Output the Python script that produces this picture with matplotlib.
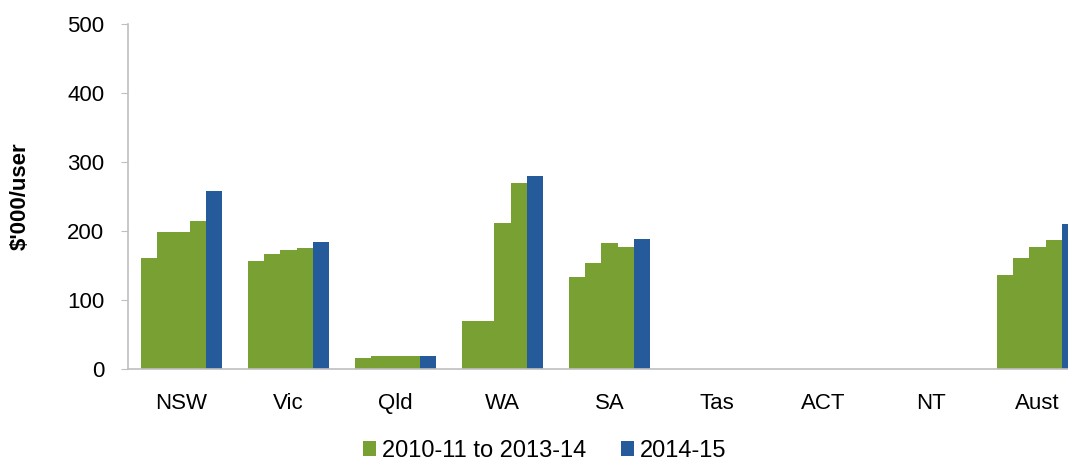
import numpy as np
import matplotlib.pyplot as plt

plt.rcParams['font.family'] = ['Liberation Sans', 'DejaVu Sans']

states = ['NSW', 'Vic', 'Qld', 'WA', 'SA', 'Tas', 'ACT', 'NT', 'Aust']
nan = np.nan
# four earlier years (2010-11 .. 2013-14), one list per year
y2010_11 = [161, 156, 16, 69, 134, nan, nan, nan, 136]
y2011_12 = [198, 166, 19, 69, 154, nan, nan, nan, 161]
y2012_13 = [198, 173, 19, 212, 182, nan, nan, nan, 177]
y2013_14 = [214, 175, 19, 270, 177, nan, nan, nan, 187]
y2014_15 = [258, 184, 19, 279, 189, nan, nan, nan, 210]

green = '#78A033'
blue = '#265B9B'

fig = plt.figure(figsize=(10.68, 4.61), dpi=100)
ax = fig.add_axes([0.1199, 0.1996, 0.8801, 0.7484])

x = np.arange(len(states))
w = 0.153
series = [y2010_11, y2011_12, y2012_13, y2013_14, y2014_15]
for i, vals in enumerate(series):
    col = blue if i == 4 else green
    lab = None
    if i == 0:
        lab = '2010-11 to 2013-14'
    elif i == 4:
        lab = '2014-15'
    ax.bar(x + (i - 2) * w, vals, width=w, color=col, label=lab, linewidth=0)

ax.set_xlim(-0.5, 8.285)
ax.set_ylim(0, 500)
ax.set_yticks(range(0, 501, 100))
ax.set_xticks(x)
ax.set_xticklabels(states, fontsize=16)
ax.tick_params(axis='y', labelsize=16, length=5, color='#BFBFBF', pad=12)
ax.tick_params(axis='x', length=0, pad=17)
ax.set_ylabel("\\$'000/user", fontsize=16, fontweight='bold', labelpad=26)

for s in ['top', 'right']:
    ax.spines[s].set_visible(False)
for s in ['left', 'bottom']:
    ax.spines[s].set_color('#BFBFBF')
    ax.spines[s].set_linewidth(1.2)

fig.legend(loc='center', bbox_to_anchor=(0.51, 0.022), ncol=2, frameon=False,
           fontsize=17, handlelength=0.55, handleheight=0.55, handletextpad=0.25,
           columnspacing=1.5, borderpad=0)

fig.savefig('out.png', dpi=100)
